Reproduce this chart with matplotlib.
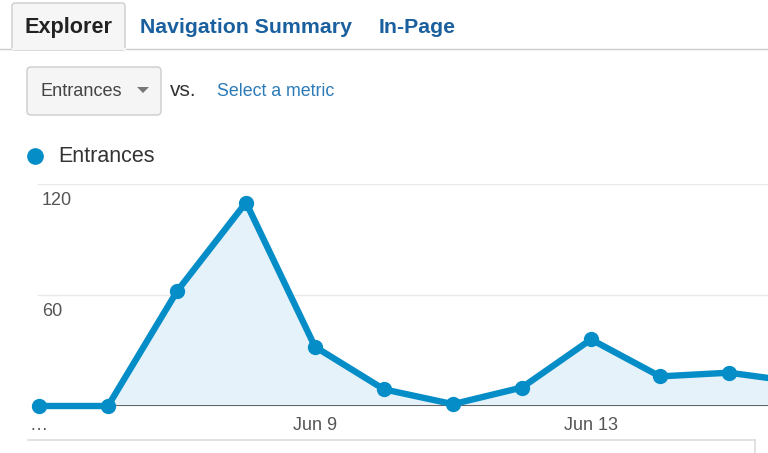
import numpy as np
import matplotlib
matplotlib.use("Agg")
import matplotlib.pyplot as plt
from matplotlib.patches import FancyBboxPatch, Polygon

plt.rcParams['font.family'] = ['Liberation Sans', 'DejaVu Sans']

# data
days = ['Jun 5', 'Jun 6', 'Jun 7', 'Jun 8', 'Jun 9', 'Jun 10', 'Jun 11', 'Jun 12',
        'Jun 13', 'Jun 14', 'Jun 15', 'Jun 16']
entrances = [0, 0, 62, 110, 32, 9, 1, 10, 36, 16, 18, 13]
tick_pos = [0, 4, 8]
tick_lab = ['…', 'Jun 9', 'Jun 13']
y_ticks = [60, 120]

blue = '#058dc7'
fill = '#e5f2f9'

fig = plt.figure(figsize=(7.68, 4.53), dpi=100)

# page chrome in pixel coords
ui = fig.add_axes([0, 0, 1, 1])
ui.set_xlim(0, 768)
ui.set_ylim(453, 0)
ui.axis('off')

ui.plot([0, 768], [48.5, 48.5], color='#cccccc', lw=1)
tab = FancyBboxPatch((12, 3), 113, 47, boxstyle='round,pad=0,rounding_size=3',
                     fc='#f6f6f6', ec='#cccccc', lw=1)
ui.add_patch(tab)
ui.plot([12.5, 124.5], [49, 49], color='#f6f6f6', lw=1.5)
ui.text(69, 27.5, 'Explorer', ha='center', va='center', fontsize=15.6,
        fontweight='bold', color='#222222')
ui.text(140, 27.5, 'Navigation Summary', ha='left', va='center', fontsize=15.3,
        fontweight='bold', color='#1a5f9e')
ui.text(379, 27.5, 'In-Page', ha='left', va='center', fontsize=15.3,
        fontweight='bold', color='#1a5f9e')

dd = FancyBboxPatch((27, 67), 134, 48, boxstyle='round,pad=0,rounding_size=4',
                    fc='#f5f5f5', ec='#cccccc', lw=1)
ui.add_patch(dd)
ui.text(40, 92, 'Entrances', ha='left', va='center', fontsize=13.1, color='#444444')
ui.add_patch(Polygon([[137, 87], [149, 87], [143, 93]], closed=True, fc='#777777', ec='none'))
ui.text(170, 91, 'vs.', ha='left', va='center', fontsize=15, color='#333333')
ui.text(217, 92, 'Select a metric', ha='left', va='center', fontsize=12.8, color='#2a7ab8')

ui.plot([35], [156], 'o', color=blue, ms=11)
ui.text(58, 157, 'Entrances', ha='left', va='center', fontsize=15.5, color='#333333')

ui.plot([28, 755], [440, 440], color='#dddddd', lw=1.2)
ui.plot([755, 755], [440, 453], color='#dddddd', lw=1.2)

# chart
ax = fig.add_axes([38 / 768, 47 / 453, 730 / 768, 222 / 453])
x = np.arange(len(entrances))
ax.set_xlim(-1 / 69, (768 - 39) / 69)
ax.set_ylim(0, 120)
ax.fill_between(x, entrances, 0, color=fill, lw=0)
ax.plot(x, entrances, color=blue, lw=4.6, marker='o', ms=10, clip_on=False,
        solid_joinstyle='miter', zorder=5)
for v in y_ticks:
    ax.axhline(v, color='#e8e8e8', lw=1, zorder=0)
    ax.text(4 / 730, v - 4.5, str(v), transform=ax.get_yaxis_transform(),
            ha='left', va='top', fontsize=13, color='#555555')
ax.axhline(0, color='#555555', lw=1.3, zorder=3)
for s in ax.spines.values():
    s.set_visible(False)
ax.set_yticks([])
ax.set_xticks(tick_pos)
ax.set_xticklabels(tick_lab, fontsize=13, color='#555555')
ax.tick_params(axis='x', length=0, pad=8)
ax.patch.set_alpha(0)

fig.savefig('out.png', dpi=100)
